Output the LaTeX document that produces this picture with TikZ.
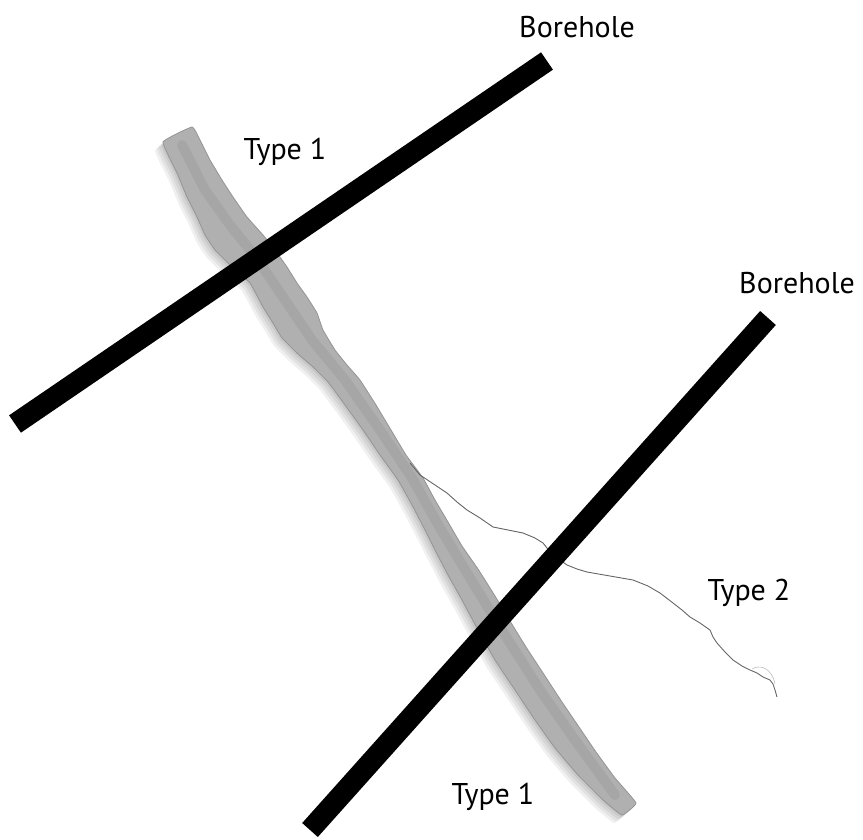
\documentclass[tikz,border=0pt]{standalone}
\usepackage{fontspec}
\setmainfont{PT Sans}
\begin{document}
\begin{tikzpicture}[x=1pt,y=-1pt,
  borehole/.style={line width=21pt,black,line cap=butt},
  veinfill/.style={fill=black!31,draw=black!42,line width=0.8pt},
  veinshadow/.style={fill=black,opacity=0.06},
  crack/.style={draw=black!60,line width=0.9pt,line join=round},
  lab/.style={font=\fontsize{30}{34}\selectfont,inner sep=0pt}]
\useasboundingbox (0,0) rectangle (863,839);

% outline of the wide vein (Type 1)
\newcommand\veinpath{plot[smooth cycle,tension=0.2] coordinates {
 (163,142) (177,173) (187,197) (197,217) (205,235) (215,250) (230,265)
 (250,283) (263,307) (273,323) (282,338) (298,354) (313,367) (328,382)
 (345,405) (363,430) (380,455) (398,480) (412,505) (425,530) (436,552)
 (448,575) (462,600) (478,630) (495,660) (515,690) (535,720) (555,748)
 (578,775) (603,800) (622,815) (636,803)
 (615,778) (596,752) (579,727) (562,702) (545,676) (526,647) (510,621)
 (495,596) (478,569) (462,546) (448,522) (435,500) (423,478) (406,455)
 (391,430) (376,405) (360,380) (347,365) (335,350) (323,330) (317,313)
 (307,297) (297,283) (287,267) (275,250) (263,235) (247,217) (233,197)
 (222,180) (210,160) (200,140) (192,127)}}

% soft shadow of the vein
\foreach \d in {2,4,6,8}
  \fill[veinshadow,shift={(-\d,\d)}] \veinpath;
% the vein itself
\path[veinfill] \veinpath;
% darker core of the vein
\draw[black!45,opacity=0.25,line width=10pt,line cap=round,line join=round]
  (182,145) -- (205,190) -- (230,225) -- (258,260) -- (285,300)
  -- (312,340) -- (345,380) -- (380,430) -- (412,478) -- (440,528)
  -- (470,578) -- (505,635) -- (540,690) -- (575,740) -- (615,795);

% thin branching fracture (Type 2)
\coordinate (branch) at (410,463);
\coordinate (tip) at (777,697);
\draw[crack] (branch) -- (420,475) -- (432,483) -- (447,493) -- (457,502)
  -- (467,510) -- (480,518) -- (493,527) -- (508,530) -- (523,533)
  -- (535,538) -- (543,543) -- (547,548) -- (557,558) -- (567,565)
  -- (577,569) -- (587,572) -- (610,576) -- (633,580) -- (648,586)
  -- (660,593) -- (673,603) -- (682,610) -- (690,617) -- (700,623)
  -- (710,630) -- (713,637) -- (717,643) -- (725,652) -- (733,660)
  -- (742,666) -- (750,670) -- (757,673) -- (763,677) -- (770,680)
  -- (773,684) -- (775,690) -- (tip);
\draw[black!25,line width=0.6pt] (752,669) .. controls (760,664) and (772,668) .. (775,684);

% boreholes
\coordinate (b1s) at (15,424);
\coordinate (b1e) at (547,61);
\coordinate (b2s) at (310,830);
\coordinate (b2e) at (768,318);
\draw[borehole] (b1s) -- (b1e);
\draw[borehole] (b2s) -- (b2e);

% labels
\node[lab] (lb1) at (577,27) {Borehole};
\node[lab] (lb2) at (797,283) {Borehole};
\node[lab] (lt1a) at (285,152) {Type 1};
\node[lab] (lt2) at (749,593) {Type 2};
\node[lab] (lt1b) at (493,797) {Type 1};
\end{tikzpicture}
\end{document}
